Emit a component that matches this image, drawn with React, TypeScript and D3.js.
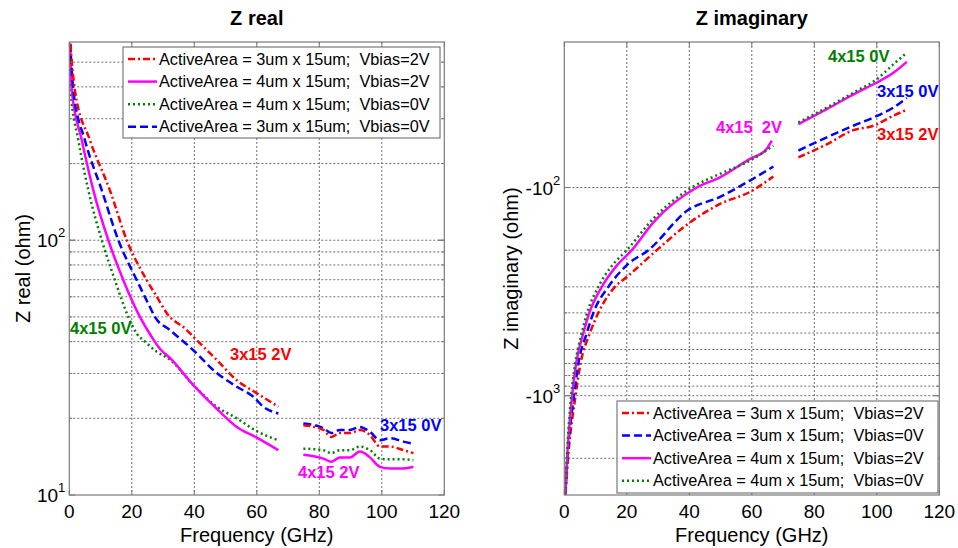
import React, { useEffect, useRef } from "react";
import * as d3 from "d3";

type Pt = [number, number | null];

// frequency axis
const freqTicks = [0, 20, 40, 60, 80, 100, 120];

// Z real (ohm), null = gap between the two measurement bands
const zReal3x15V2: Pt[] = [[0.3, 590], [1.8, 387], [6.6, 247], [13.0, 157], [18.4, 100], [24.8, 69.7], [28, 60], [31.2, 51.7], [37.6, 44.4], [39.7, 41.8], [47.2, 33.9], [53.6, 28.2], [60.0, 25.1], [66.9, 22.2], [70, null], [74.9, 18.8], [81.3, 18.0], [83.9, 16.9], [86.6, 17.5], [89.8, 17.5], [93.0, 18.0], [96.2, 17.2], [99.4, 15.5], [102.6, 15.5], [106.9, 15.0], [110.1, 14.6]];
const zReal4x15V2: Pt[] = [[0.3, 590], [0.8, 387], [4.0, 247], [7.7, 157], [12.5, 100], [17.3, 69.7], [22.6, 50.0], [26.5, 41.5], [29, 37.5], [32.2, 34.5], [39.7, 27], [47.2, 21.8], [53.6, 18.5], [60.0, 16.8], [66.9, 15.0], [70, null], [74.9, 14.4], [81.3, 13.9], [83.9, 13.5], [86.6, 14.05], [89.8, 14.05], [93.0, 14.8], [96.2, 14.05], [99.4, 12.9], [102.6, 12.7], [106.9, 12.7], [110.1, 12.9]];
const zReal4x15V0: Pt[] = [[0.2, 590], [0.4, 387], [2.9, 247], [6.1, 157], [10.4, 100], [14.6, 69.7], [18.9, 50.0], [21.6, 43], [24.2, 40], [28, 36.5], [32.2, 34], [39.7, 27], [47.2, 22.2], [53.6, 20.0], [60.0, 17.8], [66.9, 16.4], [70, null], [74.9, 15.2], [81.3, 15.0], [83.9, 14.6], [86.6, 15.0], [89.8, 15.0], [93.0, 15.5], [96.2, 15.0], [99.4, 13.9], [102.6, 13.8], [106.9, 13.8], [110.1, 13.7]];
const zReal3x15V0: Pt[] = [[0.3, 590], [1.3, 387], [5.0, 247], [10.4, 157], [15.7, 100], [21.6, 69.7], [25.8, 54.7], [27.4, 50.0], [32.2, 44.4], [39.7, 37.0], [47.2, 30.1], [53.6, 26.6], [58.9, 24.3], [62.1, 22.2], [66.9, 20.9], [70, null], [74.9, 19.1], [81.3, 18.3], [83.9, 17.5], [86.6, 18.0], [89.8, 18.0], [93.0, 18.5], [96.2, 17.7], [99.4, 16.4], [102.6, 16.7], [106.9, 16.2], [110.1, 15.9]];

// Z imaginary (ohm)
const zImag3x15V2: Pt[] = [[0.1, -3500], [1.2, -2000], [3.6, -1000], [5.2, -700], [8.2, -500], [10.9, -400], [16.2, -300], [20.0, -269], [29.6, -200], [39.7, -149], [49.8, -120], [59.4, -105], [66.9, -88.6], [70, null], [74.9, -71.6], [84.0, -62], [92.5, -53], [98.9, -50.5], [105.3, -45.2], [109.6, -42.3]];
const zImag3x15V0: Pt[] = [[0.1, -3500], [1.0, -2000], [3.1, -1000], [4.5, -700], [7.2, -500], [9.3, -400], [14.1, -300], [20.0, -236], [26.9, -200], [39.7, -128], [49.8, -111], [59.4, -92.6], [66.9, -79.3], [70, null], [74.9, -66.5], [84.0, -57.4], [92.5, -50.5], [98.9, -46.1], [105.3, -41.3], [109.6, -37.2]];
const zImag4x15V2: Pt[] = [[0.1, -3500], [0.9, -2000], [2.5, -1000], [3.8, -700], [6.1, -500], [8.0, -400], [12.0, -300], [16.5, -240], [21.6, -200], [28.5, -147], [42.4, -100], [49.8, -89.3], [59.4, -72.9], [64.5, -66], [66.4, -59.6], [70, null], [74.9, -49.6], [84.0, -42.0], [93.6, -35.0], [100.0, -31.3], [105.3, -28.1], [109.6, -24.9]];
const zImag4x15V0: Pt[] = [[0.1, -3500], [0.8, -2000], [2.2, -1000], [3.5, -700], [5.6, -500], [7.3, -400], [10.9, -300], [15.0, -240], [20.0, -200], [28.5, -141], [40.8, -100], [49.8, -86], [59.4, -74.3], [66.9, -63.0], [70, null], [74.9, -48.7], [84.0, -41.3], [93.6, -34.3], [100.0, -30.2], [105.3, -25.6], [109.6, -22.5]];

// y grid / ticks
const realGrid = [20, 30, 40, 50, 60, 70, 80, 90, 100, 200, 300, 400, 500];
const realMajor = [10, 100];
const imagGrid = [-100, -200, -300, -400, -500, -600, -700, -800, -900, -1000, -2000];
const imagMajor = [-100, -1000];

const legendReal = [
  "ActiveArea = 3um x 15um;  Vbias=2V",
  "ActiveArea = 4um x 15um;  Vbias=2V",
  "ActiveArea = 4um x 15um;  Vbias=0V",
  "ActiveArea = 3um x 15um;  Vbias=0V",
];
const legendImag = [
  "ActiveArea = 3um x 15um;  Vbias=2V",
  "ActiveArea = 3um x 15um;  Vbias=0V",
  "ActiveArea = 4um x 15um;  Vbias=2V",
  "ActiveArea = 4um x 15um;  Vbias=0V",
];

const FONT = "'Liberation Sans', Arial, Helvetica, sans-serif";
const RED = "#ff0000", BLUE = "#0000ff", MAG = "#ff00ff", GREEN = "#008000";
const styles: Record<string, { color: string; dash: string | null }> = {
  r: { color: RED, dash: "7,3,2,3" },
  b: { color: BLUE, dash: "8,4" },
  m: { color: MAG, dash: null },
  g: { color: GREEN, dash: "2,3" },
};

function drawPanel(svg: any, cfg: any) {
  const top = 42, bottom = 495;
  const x = d3.scaleLinear().domain([0, 120]).range([cfg.x0, cfg.x1]);
  const y = d3.scaleLog().domain(cfg.yDomain).range(cfg.yRange);
  const g = svg.append("g");

  // grid
  g.selectAll(".vg").data(freqTicks.slice(1, -1)).enter().append("line")
    .attr("x1", (d: number) => x(d)).attr("x2", (d: number) => x(d))
    .attr("y1", top).attr("y2", bottom)
    .attr("stroke", "#6e6e6e").attr("stroke-width", 1).attr("stroke-dasharray", "2,2");
  g.selectAll(".hg").data(cfg.grid).enter().append("line")
    .attr("x1", cfg.x0).attr("x2", cfg.x1)
    .attr("y1", (d: number) => y(d)).attr("y2", (d: number) => y(d))
    .attr("stroke", "#6e6e6e").attr("stroke-width", 1).attr("stroke-dasharray", "2,2");

  // series
  const clipId = cfg.clip;
  svg.append("clipPath").attr("id", clipId).append("rect")
    .attr("x", cfg.x0).attr("y", top).attr("width", cfg.x1 - cfg.x0).attr("height", bottom - top);
  const line = d3.line<Pt>()
    .defined((d) => d[1] != null)
    .x((d) => x(d[0]))
    .y((d) => y(d[1] as number))
    .curve(d3.curveMonotoneX);
  const sg = g.append("g").attr("clip-path", `url(#${clipId})`);
  cfg.series.forEach((s: any) => {
    const st = styles[s.style];
    sg.append("path").attr("d", line(s.data)).attr("fill", "none")
      .attr("stroke", st.color).attr("stroke-width", 2.5)
      .attr("stroke-dasharray", st.dash).attr("stroke-linejoin", "round");
  });

  // box + ticks
  g.append("rect").attr("x", cfg.x0).attr("y", top).attr("width", cfg.x1 - cfg.x0).attr("height", bottom - top)
    .attr("fill", "none").attr("stroke", "#7a7a7a").attr("stroke-width", 1.2);
  freqTicks.forEach((t) => {
    g.append("line").attr("x1", x(t)).attr("x2", x(t)).attr("y1", bottom).attr("y2", bottom - 5).attr("stroke", "#7a7a7a");
    g.append("line").attr("x1", x(t)).attr("x2", x(t)).attr("y1", top).attr("y2", top + 5).attr("stroke", "#7a7a7a");
    g.append("text").attr("x", x(t)).attr("y", 518).attr("text-anchor", "middle")
      .style("font-family", FONT).style("font-size", "19px").text(String(t));
  });
  cfg.grid.concat(cfg.major).forEach((v: number) => {
    const len = cfg.major.includes(v) ? 6 : 3;
    g.append("line").attr("x1", cfg.x0).attr("x2", cfg.x0 + len).attr("y1", y(v)).attr("y2", y(v)).attr("stroke", "#7a7a7a");
    g.append("line").attr("x1", cfg.x1).attr("x2", cfg.x1 - len).attr("y1", y(v)).attr("y2", y(v)).attr("stroke", "#7a7a7a");
  });
  cfg.major.forEach((v: number) => {
    const e = Math.round(Math.log10(Math.abs(v)));
    const t = g.append("text").attr("x", cfg.x0 - 4).attr("y", y(v) + 7).attr("text-anchor", "end")
      .style("font-family", FONT).style("font-size", "19px");
    t.append("tspan").text(v < 0 ? "-10" : "10");
    t.append("tspan").attr("dy", -10).style("font-size", "13px").text(String(e));
  });

  // titles
  const cx = (cfg.x0 + cfg.x1) / 2;
  g.append("text").attr("x", cx).attr("y", 25).attr("text-anchor", "middle")
    .style("font-family", FONT).style("font-size", "20px").style("font-weight", "bold").text(cfg.title);
  g.append("text").attr("x", cx).attr("y", 542).attr("text-anchor", "middle")
    .style("font-family", FONT).style("font-size", "20px").text("Frequency (GHz)");
  g.append("text").attr("transform", `translate(${cfg.ylabelX}, ${(top + bottom) / 2}) rotate(-90)`)
    .attr("text-anchor", "middle").style("font-family", FONT).style("font-size", "20px").text(cfg.ylabel);

  // legend
  const L = cfg.legend;
  g.append("rect").attr("x", L.x).attr("y", L.y).attr("width", L.w).attr("height", L.h)
    .attr("fill", "#fff").attr("stroke", "#7a7a7a").attr("stroke-width", 1.2);
  L.items.forEach((it: any, i: number) => {
    const st = styles[it.style];
    const yy = L.y + 12 + i * 22.6;
    g.append("line").attr("x1", L.x + 5).attr("x2", L.x + 34).attr("y1", yy).attr("y2", yy)
      .attr("stroke", st.color).attr("stroke-width", 2.5).attr("stroke-dasharray", st.dash);
    g.append("text").attr("x", L.x + 36).attr("y", yy + 5.5)
      .attr("xml:space", "preserve").style("white-space", "pre")
      .style("font-family", FONT).style("font-size", "16.3px").text(it.label);
  });

  // annotations
  cfg.notes.forEach((n: any) => {
    g.append("text").attr("x", n.x).attr("y", n.y).attr("fill", n.color)
      .style("font-family", FONT).style("font-size", "16.5px").style("font-weight", "bold")
      .style("white-space", "pre").text(n.text);
  });
}

const App = () => {
  const svgRef = useRef<SVGSVGElement>(null);

  useEffect(() => {
    const svg = d3.select(svgRef.current);
    svg.selectAll("*").remove();
    svg.append("rect").attr("width", 958).attr("height", 548).attr("fill", "#fff");

    drawPanel(svg, {
      x0: 69.3, x1: 444.3, clip: "clipReal",
      yDomain: [10, 600], yRange: [495, 42],
      grid: realGrid, major: realMajor,
      title: "Z real", ylabel: "Z real (ohm)", ylabelX: 30,
      series: [
        { data: zReal4x15V0, style: "g" },
        { data: zReal4x15V2, style: "m" },
        { data: zReal3x15V0, style: "b" },
        { data: zReal3x15V2, style: "r" },
      ],
      legend: {
        x: 123, y: 47, w: 317, h: 91,
        items: [
          { label: legendReal[0], style: "r" },
          { label: legendReal[1], style: "m" },
          { label: legendReal[2], style: "g" },
          { label: legendReal[3], style: "b" },
        ],
      },
      notes: [
        { text: "4x15 0V", x: 70, y: 334, color: GREEN },
        { text: "3x15 2V", x: 230, y: 360, color: RED },
        { text: "3x15 0V", x: 380, y: 431, color: BLUE },
        { text: "4x15 2V", x: 298, y: 478, color: MAG },
      ],
    });

    drawPanel(svg, {
      x0: 564.3, x1: 939.3, clip: "clipImag",
      yDomain: [-20, -3000], yRange: [42, 495],
      grid: imagGrid, major: imagMajor,
      title: "Z imaginary", ylabel: "Z imaginary (ohm)", ylabelX: 518,
      series: [
        { data: zImag3x15V2, style: "r" },
        { data: zImag3x15V0, style: "b" },
        { data: zImag4x15V2, style: "m" },
        { data: zImag4x15V0, style: "g" },
      ],
      legend: {
        x: 617, y: 401, w: 321, h: 92,
        items: [
          { label: legendImag[0], style: "r" },
          { label: legendImag[1], style: "b" },
          { label: legendImag[2], style: "m" },
          { label: legendImag[3], style: "g" },
        ],
      },
      notes: [
        { text: "4x15 0V", x: 828, y: 62, color: GREEN },
        { text: "3x15 0V", x: 877, y: 97, color: BLUE },
        { text: "3x15 2V", x: 877, y: 140, color: RED },
        { text: "4x15  2V", x: 716, y: 133, color: MAG },
      ],
    });
  }, []);

  return (
    <svg ref={svgRef} width={958} height={548}
      style={{ position: "absolute", left: 0, top: 0 }} />
  );
};

export default App;
